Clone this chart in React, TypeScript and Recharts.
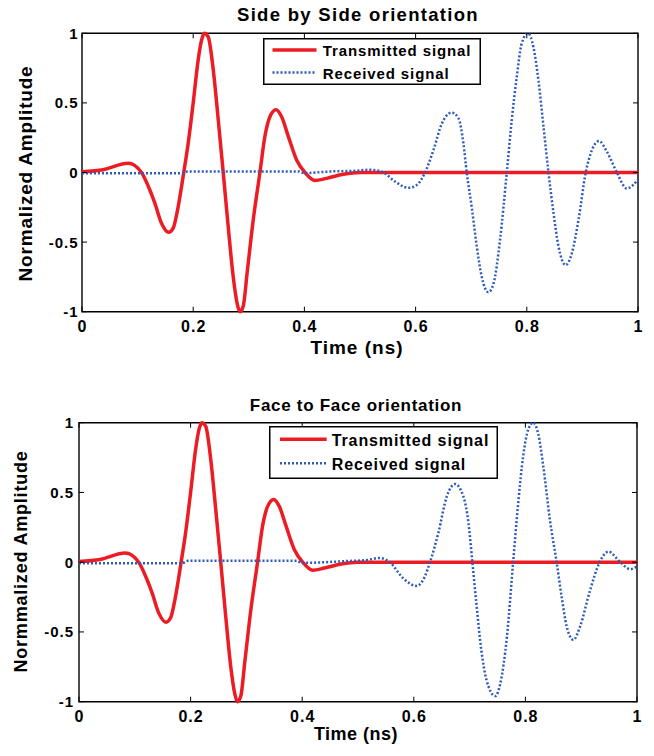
import React from "react"
import { LineChart, Line, XAxis, YAxis, ReferenceArea, Legend } from "recharts"

// ---- data ----
const timeTicks = [0, 0.2, 0.4, 0.6, 0.8, 1]
const ampTicks = [-1, -0.5, 0, 0.5, 1]

// transmitted pulse (same in both panels)
const txTime = [
  0, 0.038, 0.083, 0.107, 0.122, 0.131, 0.143, 0.156, 0.164, 0.173,
  0.183, 0.191, 0.2, 0.209, 0.215, 0.22, 0.227, 0.236, 0.245, 0.254,
  0.263, 0.272, 0.279, 0.284, 0.29, 0.297, 0.308, 0.32, 0.329, 0.338,
  0.349, 0.359, 0.371, 0.386, 0.401, 0.419, 0.44, 0.47, 0.5, 0.55, 1.0,
]
const txAmp = [
  0.005, 0.02, 0.066, 0, -0.126, -0.22, -0.365, -0.43, -0.4, -0.245,
  0, 0.21, 0.5, 0.81, 0.95, 1.0, 0.975, 0.74, 0.38, 0,
  -0.39, -0.75, -0.94, -1.0, -0.96, -0.72, -0.34, 0, 0.26, 0.4,
  0.45, 0.4, 0.26, 0.09, 0, -0.058, -0.042, -0.013, 0, 0, 0,
]

// received, side by side
const rxSideTime = [
  0, 0.18, 0.19, 0.39, 0.4, 0.42, 0.45, 0.49, 0.518,
  0.542, 0.563, 0.587, 0.602, 0.617,
  0.632, 0.647, 0.665, 0.677, 0.686, 0.692,
  0.701, 0.71, 0.719, 0.731, 0.74, 0.752, 0.764,
  0.773, 0.782, 0.791, 0.802, 0.812, 0.821, 0.83, 0.839,
  0.848, 0.857, 0.87, 0.881, 0.893, 0.906,
  0.917, 0.93, 0.944, 0.962, 0.98, 1.0,
]
const rxSideAmp = [
  -0.005, -0.005, 0.008, 0.008, -0.005, 0, 0.008, 0.012, 0.02,
  0, -0.065, -0.11, -0.09, 0,
  0.16, 0.35, 0.43, 0.39, 0.21, 0,
  -0.25, -0.53, -0.75, -0.86, -0.8, -0.48, 0,
  0.38, 0.69, 0.93, 1.0, 0.9, 0.66, 0.33, 0,
  -0.29, -0.53, -0.665, -0.58, -0.34, 0,
  0.16, 0.226, 0.15, 0, -0.115, -0.05,
]

// received, face to face
const rxFaceTime = [
  0, 0.185, 0.195, 0.39, 0.4, 0.44, 0.48, 0.515, 0.539,
  0.557, 0.581, 0.605, 0.62, 0.629,
  0.644, 0.659, 0.674, 0.689, 0.698, 0.705,
  0.712, 0.721, 0.73, 0.746, 0.755, 0.767, 0.778,
  0.787, 0.796, 0.805, 0.814, 0.823, 0.832, 0.844, 0.856,
  0.865, 0.874, 0.886, 0.898, 0.916, 0.933,
  0.949, 0.97, 0.988, 1.0,
]
const rxFaceAmp = [
  -0.007, -0.007, 0.01, 0.01, -0.005, 0, 0.008, 0.015, 0.03,
  0, -0.115, -0.17, -0.1, 0,
  0.21, 0.47, 0.56, 0.47, 0.28, 0,
  -0.29, -0.63, -0.84, -0.96, -0.87, -0.53, 0,
  0.42, 0.76, 0.95, 1.0, 0.92, 0.69, 0.3, 0,
  -0.25, -0.46, -0.557, -0.46, -0.2, 0,
  0.076, 0, -0.05, -0.03,
]

const toPoints = (ts: number[], vs: number[]) => ts.map((t, i) => ({ t, v: vs[i] }))

const RED = "#ec1c24"
const BLUE = "#2d5bb9"
const FONT = "Arial, 'Liberation Sans', Helvetica, sans-serif"
const W = 654
const H = 378

interface Layout {
  top: number
  plot: { left: number; right: number; top: number; bottom: number }
  title: string
  titleSize: number
  titleSpacing: number
  titleX: number
  titleBase: number
  yLabel: string
  yLabelSize: number
  yLabelX: number
  yLabelY: number
  xLabelSize: number
  xLabelSpacing: number
  xLabelX: number
  xLabelBase: number
  yTickGap: number
  legend: {
    left: number
    top: number
    width: number
    height: number
    fontSize: number
    lineX1: number
    lineX2: number
    textX: number
    row1: number
    row2: number
  }
}

const sideLayout: Layout = {
  top: 0,
  plot: { left: 82, right: 638, top: 33.3, bottom: 311.7 },
  title: "Side by Side orientation",
  titleSize: 18.5,
  titleSpacing: 1.3,
  titleX: 358,
  titleBase: 20.7,
  yLabel: "Normalized Amplitude",
  yLabelSize: 19,
  yLabelX: 31.5,
  yLabelY: 173.5,
  xLabelSize: 19,
  xLabelSpacing: 1,
  xLabelX: 357,
  xLabelBase: 354.3,
  yTickGap: 4.5,
  legend: { left: 263, top: 38, width: 218, height: 47, fontSize: 15, lineX1: 9.5, lineX2: 53.5, textX: 59.7, row1: 12, row2: 34.5 },
}

const faceLayout: Layout = {
  top: 378,
  plot: { left: 79, right: 637, top: 422.7, bottom: 701.7 },
  title: "Face to Face orientation",
  titleSize: 17,
  titleSpacing: 0.7,
  titleX: 356,
  titleBase: 410.7,
  yLabel: "Normmalized Amplitude",
  yLabelSize: 18,
  yLabelX: 26.7,
  yLabelY: 561.5,
  xLabelSize: 18,
  xLabelSpacing: 0.5,
  xLabelX: 356,
  xLabelBase: 740,
  yTickGap: 6,
  legend: { left: 269, top: 48, width: 229, height: 53, fontSize: 16, lineX1: 11, lineX2: 57.7, textX: 62.7, row1: 13.3, row2: 37.3 },
}

const LegendBox = ({ lg }: { lg: Layout["legend"] }) => {
  const base = lg.fontSize * 0.36
  return (
    <svg width={lg.width} height={lg.height} style={{ display: "block" }}>
      <rect x={0.75} y={0.75} width={lg.width - 1.5} height={lg.height - 1.5} fill="#fff" stroke="#000" strokeWidth={1.5} />
      <line x1={lg.lineX1} x2={lg.lineX2} y1={lg.row1} y2={lg.row1} stroke={RED} strokeWidth={3.5} />
      <text x={lg.textX} y={lg.row1 + base + 1} fontFamily={FONT} fontWeight="bold" fontSize={lg.fontSize} letterSpacing={0.9}>
        Transmitted signal
      </text>
      <line x1={lg.lineX1} x2={lg.lineX2} y1={lg.row2} y2={lg.row2} stroke={BLUE} strokeWidth={2.5} strokeDasharray="2 2" />
      <text x={lg.textX} y={lg.row2 + base + 1} fontFamily={FONT} fontWeight="bold" fontSize={lg.fontSize} letterSpacing={0.9}>
        Received signal
      </text>
    </svg>
  )
}

const Panel = ({ L, received }: { L: Layout; received: { t: number; v: number }[] }) => {
  const plotW = L.plot.right - L.plot.left
  const plotH = L.plot.bottom - L.plot.top
  const off = L.top

  const xTick = (props: any) => {
    const { x, y, payload } = props
    return (
      <g>
        <line x1={x} x2={x} y1={y} y2={y - 5} stroke="#000" />
        <line x1={x} x2={x} y1={y - plotH} y2={y - plotH + 5} stroke="#000" />
        <text x={x + 0.5} y={y + 20.6} textAnchor="middle" fontFamily={FONT} fontWeight="bold" fontSize={16} letterSpacing={1}>
          {String(payload.value)}
        </text>
      </g>
    )
  }

  const yTick = (props: any) => {
    const { x, y, payload } = props
    return (
      <g>
        <line x1={x} x2={x + 5} y1={y} y2={y} stroke="#000" />
        <line x1={x + plotW} x2={x + plotW - 5} y1={y} y2={y} stroke="#000" />
        <text x={x - L.yTickGap + 1} y={y + 5.5} textAnchor="end" fontFamily={FONT} fontWeight="bold" fontSize={15} letterSpacing={1}>
          {String(payload.value)}
        </text>
      </g>
    )
  }

  return (
    <div style={{ position: "absolute", left: 0, top: off, width: W, height: H }}>
      <LineChart
        width={W}
        height={H}
        margin={{ top: L.plot.top - off, right: W - L.plot.right, bottom: 0, left: 0 }}
      >
        <XAxis
          dataKey="t"
          type="number"
          domain={[0, 1]}
          ticks={timeTicks}
          interval={0}
          height={H - (L.plot.bottom - off)}
          tickSize={0}
          tickMargin={0}
          tickLine={false}
          axisLine={false}
          tick={xTick}
          label={() => (
            <text
              x={L.xLabelX}
              y={L.xLabelBase - off}
              textAnchor="middle"
              fontFamily={FONT}
              fontWeight="bold"
              fontSize={L.xLabelSize}
              letterSpacing={L.xLabelSpacing}
            >
              Time (ns)
            </text>
          )}
        />
        <YAxis
          type="number"
          domain={[-1, 1]}
          ticks={ampTicks}
          interval={0}
          width={L.plot.left}
          tickSize={0}
          tickMargin={0}
          tickLine={false}
          axisLine={false}
          tick={yTick}
          label={() => (
            <text
              transform={`translate(${L.yLabelX}, ${L.yLabelY - off}) rotate(-90)`}
              textAnchor="middle"
              fontFamily={FONT}
              fontWeight="bold"
              fontSize={L.yLabelSize}
              letterSpacing={0.8}
            >
              {L.yLabel}
            </text>
          )}
        />
        <Line
          data={toPoints(txTime, txAmp)}
          dataKey="v"
          name="Transmitted signal"
          type="monotone"
          stroke={RED}
          strokeWidth={3.5}
          dot={false}
          activeDot={false}
          isAnimationActive={false}
        />
        <Line
          data={received}
          dataKey="v"
          name="Received signal"
          type="monotone"
          stroke={BLUE}
          strokeWidth={2.5}
          strokeDasharray="2 2"
          dot={false}
          activeDot={false}
          isAnimationActive={false}
        />
        <ReferenceArea
          x1={0}
          x2={1}
          y1={-1}
          y2={1}
          fill="none"
          stroke="#000"
          strokeWidth={1.4}
          ifOverflow="visible"
          label={() => (
            <text
              x={L.titleX}
              y={L.titleBase - off}
              textAnchor="middle"
              fontFamily={FONT}
              fontWeight="bold"
              fontSize={L.titleSize}
              letterSpacing={L.titleSpacing}
            >
              {L.title}
            </text>
          )}
        />
        <Legend
          layout="vertical"
          align="center"
          verticalAlign="middle"
          wrapperStyle={{ left: L.legend.left, top: L.legend.top, width: L.legend.width, height: L.legend.height }}
          content={() => <LegendBox lg={L.legend} />}
        />
      </LineChart>
    </div>
  )
}

export default function App() {
  return (
    <div style={{ position: "absolute", left: 0, top: 0, width: W, height: 756, background: "#fff" }}>
      <Panel L={sideLayout} received={toPoints(rxSideTime, rxSideAmp)} />
      <Panel L={faceLayout} received={toPoints(rxFaceTime, rxFaceAmp)} />
    </div>
  )
}
